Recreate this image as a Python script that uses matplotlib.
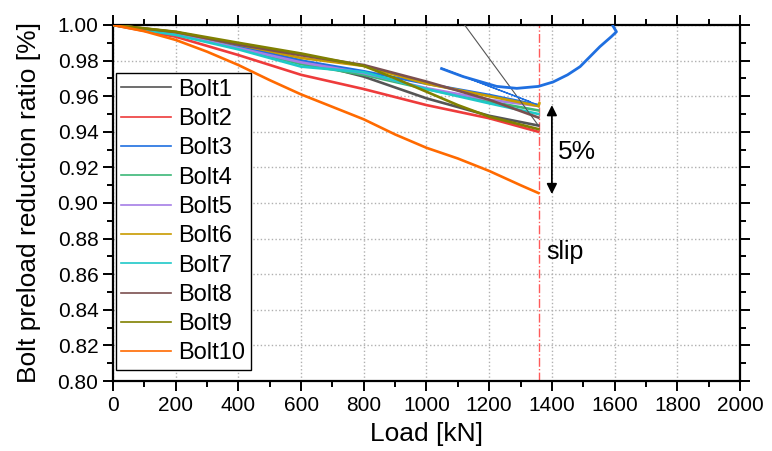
import numpy as np
import matplotlib
matplotlib.use('Agg')
import matplotlib.pyplot as plt
from matplotlib.ticker import MultipleLocator, FormatStrFormatter

plt.rcParams['font.family'] = ['Liberation Sans', 'DejaVu Sans']

# load steps (kN) and preload ratio per bolt, up to slip
load = [0, 200, 400, 600, 800, 1000, 1200, 1357]
bolt1 = [1.0, 0.995, 0.988, 0.980, 0.971, 0.9588, 0.949, 0.9435]
bolt2 = [1.0, 0.9934, 0.9831, 0.972, 0.964, 0.955, 0.9476, 0.940]
bolt3 = [1.0, 0.995, 0.988, 0.980, 0.974, 0.967, 0.9607, 0.955]
bolt4 = [1.0, 0.995, 0.987, 0.978, 0.972, 0.964, 0.957, 0.952]
bolt5 = [1.0, 0.995, 0.987, 0.979, 0.973, 0.9645, 0.958, 0.9545]
bolt6 = [1.0, 0.996, 0.989, 0.9815, 0.977, 0.967, 0.960, 0.9545]
bolt7 = [1.0, 0.9944, 0.9863, 0.9766, 0.9735, 0.964, 0.956, 0.950]
bolt8 = [1.0, 0.996, 0.989, 0.983, 0.9775, 0.9682, 0.958, 0.948]

load9 = [0, 200, 400, 600, 800, 900, 1000, 1100, 1200, 1357]
bolt9 = [1.0, 0.9962, 0.990, 0.984, 0.977, 0.970, 0.9625, 0.955, 0.9485, 0.9415]

load10 = [0, 100, 200, 300, 400, 500, 600, 700, 800, 900, 1000, 1100, 1200, 1300, 1357]
bolt10 = [1.0, 0.9965, 0.9916, 0.985, 0.9775, 0.969, 0.961, 0.954, 0.947, 0.9385,
          0.931, 0.925, 0.918, 0.910, 0.9056]

# extra pieces after slip
bolt1_jump_load = [1357, 1080]
bolt1_jump = [0.9435, 1.01]
bolt3_back_load = [1357, 1048, 1330]
bolt3_back = [0.955, 0.9757, 0.957]
bolt3_post_load = [1048, 1117, 1224, 1288, 1357, 1404, 1450, 1490, 1553, 1590, 1606, 1595]
bolt3_post = [0.9755, 0.971, 0.9655, 0.9644, 0.9655, 0.968, 0.972, 0.9766, 0.9878,
              0.9935, 0.9962, 0.9994]
bolt6_hook_load = [1357, 1360]
bolt6_hook = [0.9545, 0.956]

slip_load = 1360
arrow_load = 1400
arrow_top = 0.955
arrow_bottom = 0.905

colors = ['#555555', '#ee3b3b', '#1f6fe0', '#3cb878', '#a67ee6',
          '#c89b00', '#1fc8c8', '#7b4f4f', '#808000', '#ff6a00']

fig = plt.figure(figsize=(7.72, 4.51), dpi=100)
ax = fig.add_subplot(1, 1, 1)
ax.set_position([0.1464, 0.1552, 0.8121, 0.7894])

series = [(load, bolt1), (load, bolt2), (load, bolt3), (load, bolt4), (load, bolt5),
          (load, bolt6), (load, bolt7), (load, bolt8), (load9, bolt9), (load10, bolt10)]
for i, (xs, ys) in enumerate(series):
    ax.plot(xs, ys, color=colors[i], lw=1.9, label='Bolt%d' % (i + 1), zorder=3)

ax.plot(bolt1_jump_load, bolt1_jump, color=colors[0], lw=0.8, zorder=3)
ax.plot(bolt3_back_load, bolt3_back, color=colors[2], lw=0.9, zorder=3)
ax.plot(bolt3_post_load, bolt3_post, color=colors[2], lw=2.0, zorder=3)
ax.plot(bolt6_hook_load, bolt6_hook, color=colors[5], lw=1.9, zorder=3)

# slip line and 5% marker
ax.axvline(slip_load, color='#ff5a5a', lw=1, ls='-.', zorder=2)
ax.annotate('', xy=(arrow_load, arrow_bottom), xytext=(arrow_load, arrow_top),
            arrowprops=dict(arrowstyle='<|-|>', color='black', lw=1.3,
                            mutation_scale=15, shrinkA=0, shrinkB=0))
ax.text(1420, 0.9285, '5%', fontsize=19, va='center', ha='left')
ax.text(1383, 0.8726, 'slip', fontsize=18, va='center', ha='left')

ax.set_xlim(0, 2000)
ax.set_ylim(0.80, 1.00)
ax.xaxis.set_major_locator(MultipleLocator(200))
ax.xaxis.set_minor_locator(MultipleLocator(100))
ax.yaxis.set_major_locator(MultipleLocator(0.02))
ax.yaxis.set_minor_locator(MultipleLocator(0.01))
ax.yaxis.set_major_formatter(FormatStrFormatter('%.2f'))
ax.tick_params(which='both', direction='out', top=True, right=True, width=1.4)
ax.tick_params(which='major', length=7, labelsize=15)
ax.tick_params(which='minor', length=4)
for sp in ax.spines.values():
    sp.set_linewidth(1.6)

ax.grid(True, which='major', color='#b0b0b0', ls=':', lw=1, zorder=0)
ax.set_xlabel('Load [kN]', fontsize=19, labelpad=5)
ax.set_ylabel('Bolt preload reduction ratio [%]', fontsize=19, labelpad=12)

leg = ax.legend(loc='upper left', bbox_to_anchor=(0.004, 0.866), fontsize=17,
                frameon=True, fancybox=False, edgecolor='black', framealpha=1,
                borderpad=0.25, labelspacing=0.31, handlelength=2.1,
                handletextpad=0.3, borderaxespad=0)
leg.get_frame().set_linewidth(1)
for h in leg.legend_handles:
    h.set_linewidth(1.2)

fig.savefig('out.png', dpi=100)
